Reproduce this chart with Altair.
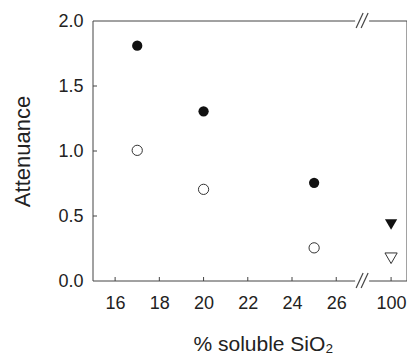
import altair as alt
import pandas as pd

# ---- data ----
x_vals = [17, 20, 25, 100]
filled_y = [1.81, 1.305, 0.755, 0.435]
open_y = [1.005, 0.705, 0.255, 0.175]
x_tick_vals = [16, 18, 20, 22, 24, 26, 100]
y_tick_vals = [0.5, 1.0, 1.5]

# broken axis: the value 100 is drawn at this position on the compressed scale
X_MIN, X_MAX = 15, 29.2
BREAK_AT = 27.17     # where the // marks sit
POS_100 = 28.48      # display position of 100
Y_MIN, Y_MAX = 0, 2

W, H = 314, 260
FRAME = "#444444"
TEXT = "#222222"
FONT = "Liberation Sans"

rows = []
for xv, yv in zip(x_vals, filled_y):
    rows.append({"x": xv, "y": yv, "series": "filled"})
for xv, yv in zip(x_vals, open_y):
    rows.append({"x": xv, "y": yv, "series": "open"})
df = pd.DataFrame(rows)

xscale = alt.Scale(domain=[X_MIN, X_MAX], nice=False, zero=False)
yscale = alt.Scale(domain=[Y_MIN, Y_MAX], nice=False, zero=False)

def disp(v):
    return POS_100 if v > 50 else v

x_axis = alt.Axis(
    values=[disp(v) for v in x_tick_vals],
    labelExpr=f"datum.value > {BREAK_AT} ? '100' : format(datum.value, 'd')",
    ticks=False, domain=False, grid=False,
    labelFontSize=18, labelPadding=13, labelColor=TEXT,
    title="% soluble SiO₂", titleFontSize=21, titleFontWeight="normal",
    titleColor=TEXT, titleX=170, titleY=69, titleBaseline="alphabetic",
    titleAlign="center",
)
y_axis = alt.Axis(
    values=y_tick_vals + [0, 2], format=".1f",
    ticks=False, domain=False, grid=False,
    labelFontSize=18, labelPadding=10, labelColor=TEXT,
    title="Attenuance", titleFontSize=22, titleFontWeight="normal",
    titleColor=TEXT, titleX=-64, titleY=H / 2, titleAngle=-90,
    titleBaseline="alphabetic", titleAlign="center",
)

frame_v = pd.DataFrame({"x": [X_MIN, X_MAX], "y": [Y_MIN] * 2, "y2": [Y_MAX] * 2})
frame_h = pd.DataFrame({"y": [Y_MIN, Y_MAX], "x": [X_MIN] * 2, "x2": [X_MAX] * 2})

base_x = alt.X("x:Q", scale=xscale, axis=x_axis)
base_y = alt.Y("y:Q", scale=yscale, axis=y_axis)

frame_vert = alt.Chart(frame_v).mark_rule(color=FRAME, strokeWidth=1).encode(
    x=base_x, y=base_y, y2="y2:Q")
frame_horz = alt.Chart(frame_h).mark_rule(color=FRAME, strokeWidth=1).encode(
    x=alt.X("x:Q", scale=xscale), x2="x2:Q", y=alt.Y("y:Q", scale=yscale))

brk = pd.DataFrame({"x": [BREAK_AT, BREAK_AT], "y": [Y_MIN, Y_MAX]})
gap = alt.Chart(brk).mark_rule(color="white", strokeWidth=4, xOffset=-7, x2Offset=7).encode(
    x=alt.X("x:Q", scale=xscale), x2="x:Q", y=alt.Y("y:Q", scale=yscale))
slash1 = alt.Chart(brk).mark_rule(color=FRAME, strokeWidth=1.2,
                                  xOffset=-6, yOffset=7, x2Offset=1, y2Offset=-8).encode(
    x=alt.X("x:Q", scale=xscale), x2="x:Q", y=alt.Y("y:Q", scale=yscale), y2="y:Q")
slash2 = alt.Chart(brk).mark_rule(color=FRAME, strokeWidth=1.2,
                                  xOffset=-1, yOffset=7, x2Offset=6, y2Offset=-8).encode(
    x=alt.X("x:Q", scale=xscale), x2="x:Q", y=alt.Y("y:Q", scale=yscale), y2="y:Q")

xt = pd.DataFrame({"x": [disp(v) for v in x_tick_vals], "y": [Y_MIN] * len(x_tick_vals)})
yt = pd.DataFrame({"y": y_tick_vals, "x": [X_MIN] * len(y_tick_vals)})
xticks = alt.Chart(xt).mark_rule(color=FRAME, y2Offset=-4).encode(
    x=alt.X("x:Q", scale=xscale), y=alt.Y("y:Q", scale=yscale), y2="y:Q")
yticks = alt.Chart(yt).mark_rule(color=FRAME, x2Offset=4).encode(
    x=alt.X("x:Q", scale=xscale), x2="x:Q", y=alt.Y("y:Q", scale=yscale))

pts_base = alt.Chart(df).transform_calculate(
    xpos=f"datum.x > 50 ? {POS_100} : datum.x",
    shp="datum.x > 50 ? 'triangle-down' : 'circle'",
    sz="datum.x > 50 ? 150 : 105",
)
filled_pts = pts_base.transform_filter("datum.series == 'filled'").mark_point(
    filled=True, color="#111111", opacity=1).encode(
    x=alt.X("xpos:Q", scale=xscale), y=alt.Y("y:Q", scale=yscale),
    shape=alt.Shape("shp:N", scale=None), size=alt.Size("sz:Q", scale=None))
open_pts = pts_base.transform_filter("datum.series == 'open'").mark_point(
    filled=False, fill="white", fillOpacity=1, stroke="#333333", strokeWidth=1,
    opacity=1).encode(
    x=alt.X("xpos:Q", scale=xscale), y=alt.Y("y:Q", scale=yscale),
    shape=alt.Shape("shp:N", scale=None), size=alt.Size("sz:Q", scale=None))

chart = alt.layer(
    frame_vert, frame_horz, gap, slash1, slash2, xticks, yticks, filled_pts, open_pts
).properties(
    width=W, height=H,
    autosize=alt.AutoSizeParams(type="none"),
    padding={"left": 85, "top": 13, "right": 0, "bottom": 74},
).configure_view(stroke=None).configure_axis(
    labelFont=FONT, titleFont=FONT
)

chart.save("out.html", embed_options={"renderer": "svg", "actions": False})
